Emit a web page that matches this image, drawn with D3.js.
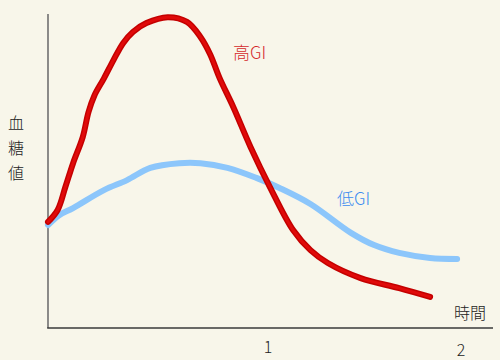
<!DOCTYPE html>
<html>
<head>
<meta charset="utf-8">
<script src="https://cdn.jsdelivr.net/npm/d3@7"></script>
<style>
  body { margin: 0; background: #f8f6ea; }
  svg { display: block; font-family: "Noto Sans CJK JP", "Noto Sans", sans-serif; font-weight: 300; }
</style>
</head>
<body>
<div id="chart"></div>
<script>
// time in hours, blood sugar in arbitrary units (0-100)
var highGiTime  = [-0.14, -0.09, -0.05, -0.01, 0.04, 0.07, 0.10, 0.15, 0.20, 0.25, 0.30, 0.37, 0.48, 0.58, 0.65, 0.70, 0.75, 0.82, 0.91, 1.01, 1.13, 1.22, 1.31, 1.48, 1.68, 1.84];
var highGiValue = [33.8, 37.6, 44.9, 52.5, 60.8, 68.8, 74.0, 79.5, 85.4, 90.8, 94.3, 97.1, 99.0, 97.5, 92.7, 87.2, 79.5, 70.4, 57.6, 44.9, 31.2, 24.8, 20.7, 15.9, 12.7, 9.9];
var lowGiTime   = [-0.14, -0.08, -0.01, 0.15, 0.27, 0.39, 0.54, 0.65, 0.79, 0.94, 1.06, 1.22, 1.43, 1.55, 1.68, 1.84, 1.98];
var lowGiValue  = [32.8, 36.0, 38.2, 43.9, 47.1, 51.0, 52.5, 52.5, 51.0, 47.8, 44.6, 39.5, 30.3, 26.4, 23.9, 22.3, 22.0];
var xTicks = [1, 2];
var yLabel = ["血", "糖", "値"];

let width = 500;
let height = 360;
var margin = {top: 14, right: 7, bottom: 32, left: 48};

var svg = d3.select("#chart").append("svg")
    .attr("width", width)
    .attr("height", height);

svg.append("rect").attr("width", width).attr("height", height).attr("fill", "#f8f6ea");

var xScale = d3.scaleLinear()
    .domain([-0.14, 2.166])
    .range([margin.left, width - margin.right]);

var yScale = d3.scaleLinear()
    .domain([0, 100])
    .range([height - margin.bottom, margin.top]);

var line = d3.line()
    .x(function(d) { return xScale(d[0]); })
    .y(function(d) { return yScale(d[1]); })
    .curve(d3.curveCatmullRom.alpha(0.5));

var highData = d3.zip(highGiTime, highGiValue);
var lowData = d3.zip(lowGiTime, lowGiValue);

// axes (plain lines, no tick marks)
svg.append("line")
    .attr("x1", xScale(-0.14)).attr("x2", xScale(-0.14))
    .attr("y1", margin.top).attr("y2", height - margin.bottom)
    .attr("stroke", "#707070").attr("stroke-width", 1.6);

svg.append("line")
    .attr("x1", xScale(-0.14) - 0.8).attr("x2", width - margin.right)
    .attr("y1", yScale(0)).attr("y2", yScale(0))
    .attr("stroke", "#3a3a3a").attr("stroke-width", 1.6);

svg.selectAll(".tick-label")
    .data(xTicks)
    .enter().append("text")
    .attr("class", "tick-label")
    .attr("x", function(d) { return xScale(d); })
    .attr("y", function(d, i) { return yScale(0) + 25 + i * 3; })
    .attr("text-anchor", "middle")
    .attr("font-size", 16)
    .attr("fill", "#222")
    .text(function(d) { return d; });

svg.append("text")
    .attr("x", 470)
    .attr("y", 319)
    .attr("text-anchor", "middle")
    .attr("font-size", 16)
    .attr("fill", "#222")
    .text("時間");

svg.selectAll(".ylab")
    .data(yLabel)
    .enter().append("text")
    .attr("class", "ylab")
    .attr("x", 16)
    .attr("y", function(d, i) { return 129 + i * 25; })
    .attr("text-anchor", "middle")
    .attr("font-size", 16)
    .attr("fill", "#222")
    .text(function(d) { return d; });

// curves
svg.append("path")
    .datum(lowData)
    .attr("d", line)
    .attr("fill", "none")
    .attr("stroke", "#8cc6fb")
    .attr("stroke-width", 6)
    .attr("stroke-linecap", "round")
    .attr("stroke-linejoin", "round");

svg.append("path")
    .datum(highData)
    .attr("d", line)
    .attr("fill", "none")
    .attr("stroke", "#c40000")
    .attr("stroke-width", 6)
    .attr("stroke-linecap", "round")
    .attr("stroke-linejoin", "round");

svg.append("path")
    .datum(highData)
    .attr("d", line)
    .attr("fill", "none")
    .attr("stroke", "#e00a0a")
    .attr("stroke-width", 3)
    .attr("stroke-linecap", "round")
    .attr("stroke-linejoin", "round");

svg.append("text")
    .attr("x", 233)
    .attr("y", 59)
    .attr("font-size", 17)
    .attr("fill", "#d42a2a")
    .text("高GI");

svg.append("text")
    .attr("x", 337)
    .attr("y", 205)
    .attr("font-size", 17)
    .attr("fill", "#3a8cf0")
    .text("低GI");
</script>
</body>
</html>
